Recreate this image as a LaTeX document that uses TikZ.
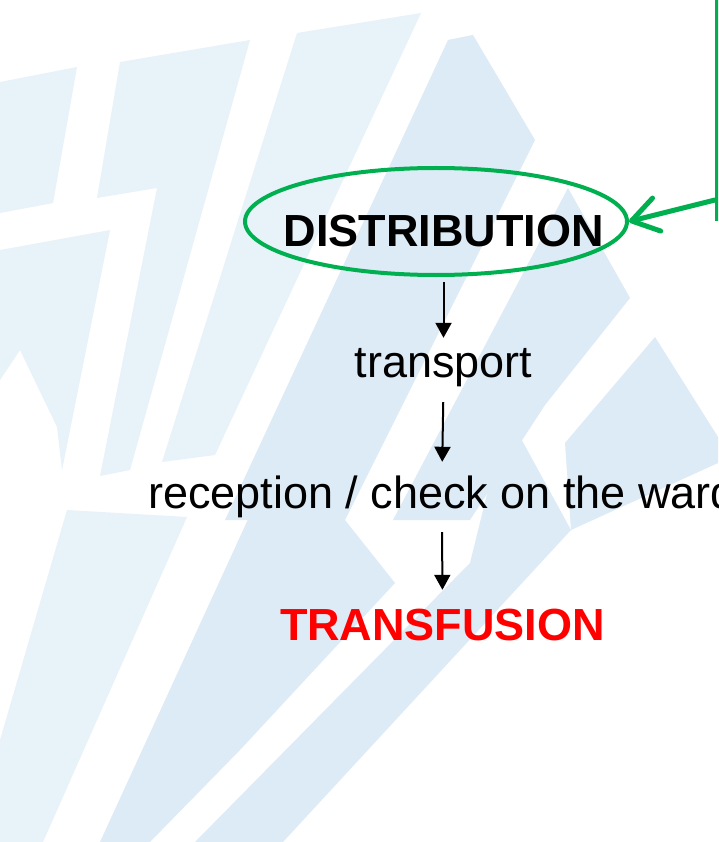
\documentclass[tikz,border=0pt]{standalone}
\usepackage{fontspec}
\setmainfont{Liberation Sans}
\usetikzlibrary{arrows.meta,shapes.geometric}
\definecolor{wmlight}{HTML}{E8F2F9}
\definecolor{wmdark}{HTML}{DDEBF6}
\definecolor{boxgreen}{HTML}{00B050}
\definecolor{alertred}{HTML}{FF0000}
\tikzset{
  wmA/.style={fill=wmlight, draw=none},
  wmB/.style={fill=wmdark, draw=none},
  flowtext/.style={inner sep=0pt, text height=33pt, text depth=10pt, anchor=base,
                   font=\fontsize{45}{54}\selectfont},
  flowarrow/.style={line width=2pt, -{Triangle[length=15pt,width=16pt]}},
  greenarrow/.style={draw=boxgreen, line width=5pt, line cap=round,
                     -{Straight Barb[length=26pt,width=34pt,round]}},
}
\begin{document}
\begin{tikzpicture}[x=1pt,y=-1pt]
\useasboundingbox (0,0) rectangle (718,842);
\clip (0,0) rectangle (718,842);
\fill[white] (0,0) rectangle (718,842);

% pale watermark bands
\fill[wmA] (0,82) -- (77,67) -- (53,203) -- (0,213) -- cycle;
\fill[wmA] (120,62) -- (250,40) -- (130,470) -- (100,476) -- (157,188) -- (97,198) -- cycle;
\fill[wmA] (0,250) -- (110,230) -- (62,470) -- (57,427) -- (20,350) -- (0,380) -- cycle;
\fill[wmA] (297,33) -- (421,13) -- (215,455) -- (162,462) -- cycle;
\fill[wmB] (473,35) -- (535,140) -- (345,520) -- (225,520) -- (448,40) -- cycle;
\fill[wmB] (568,188) -- (630,298) -- (545,405) -- (470,520) -- (393,520) -- cycle;
\fill[wmB] (655,337) -- (718,437) -- (718,463) -- (571,530) -- (565,443) -- cycle;
\fill[wmB] (507,413) -- (571,530) -- (283,842) -- (195,842) -- (470,563) -- cycle;
\fill[wmB] (250,515) -- (345,520) -- (395,583) -- (240,750) -- (150,842) -- (100,842) -- cycle;
\fill[wmA] (67,510) -- (187,517) -- (43,842) -- (0,842) -- (0,740) -- cycle;

% source box, partly outside the frame
\node[draw=boxgreen, line width=4.5pt, minimum width=90pt, minimum height=250pt,
      anchor=south west, inner sep=0pt] (src) at (715,221) {};

% flow
\node[flowtext, font=\bfseries\fontsize{45}{54}\selectfont] (dist) at (443.5,246) {DISTRIBUTION};
\node[draw=boxgreen, line width=4pt, ellipse, minimum width=382pt, minimum height=107pt,
      inner sep=0pt] (ring) at (436,221.5) {};
\node[flowtext] (trans) at (443.5,377) {transport};
\node[flowtext] (recep) at (442,508) {reception / check on the ward};
\node[flowtext, text=alertred, font=\bfseries\fontsize{45}{54}\selectfont] (transf) at (442.5,640) {TRANSFUSION};

\draw[flowarrow, shorten <=26pt, shorten >=6pt] (dist.south) -- (trans.north);
\draw[flowarrow, shorten <=15pt, shorten >=13pt] (trans.south) -- (recep.north);
\draw[flowarrow, shorten <=14pt, shorten >=17pt] (recep.south) -- (transf.north);

\draw[greenarrow] (src.south west) ++(0,-21) -- (ring.east);
\end{tikzpicture}
\end{document}
